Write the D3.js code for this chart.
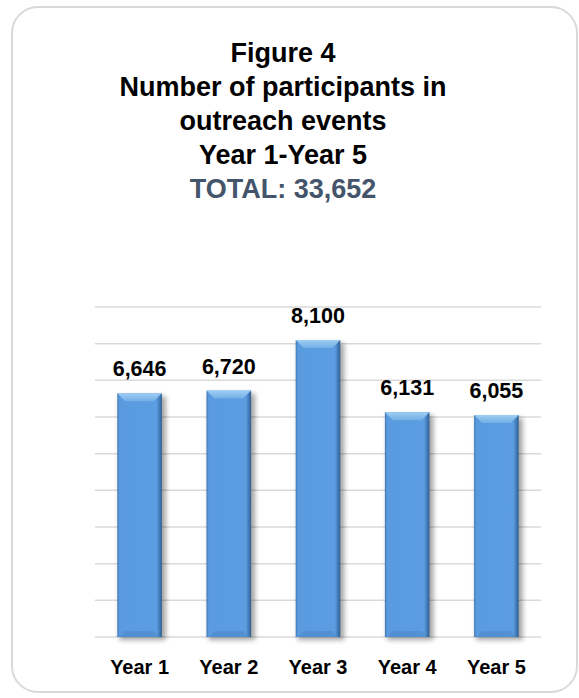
<html>
<head>
<meta charset="utf-8">
<title>Figure 4</title>
<style>
  body { margin: 0; background: #fff; }
  text { font-family: "Liberation Sans", Arial, sans-serif; font-weight: bold; }
</style>
<script src="https://d3js.org/d3.v7.min.js"></script>
</head>
<body>
<svg width="579" height="698"></svg>
<script>
var years = ["Year 1", "Year 2", "Year 3", "Year 4", "Year 5"];
var participants = [6646, 6720, 8100, 6131, 6055];
var titleLines = ["Figure 4", "Number of participants in", "outreach events", "Year 1-Year 5"];
var totalLine = "TOTAL: 33,652";
var gridTicks = d3.range(0, 9001, 1000);

var svg = d3.select("svg"),
    margin = {top: 307, right: 38, bottom: 61, left: 95},
    width = +svg.attr("width") - margin.left - margin.right,
    height = +svg.attr("height") - margin.top - margin.bottom;

var defs = svg.append("defs");
var side = defs.append("linearGradient").attr("id", "side").attr("x1", 0).attr("x2", 1).attr("y1", 0).attr("y2", 0);
side.append("stop").attr("offset", "0%").attr("stop-color", "#3f77b4");
side.append("stop").attr("offset", "5%").attr("stop-color", "#5a9be0");
side.append("stop").attr("offset", "88%").attr("stop-color", "#5b9de0");
side.append("stop").attr("offset", "100%").attr("stop-color", "#2f5f93");
var topG = defs.append("linearGradient").attr("id", "bevel").attr("x1", 0).attr("x2", 0).attr("y1", 0).attr("y2", 1);
topG.append("stop").attr("offset", "0%").attr("stop-color", "#9fcdf3");
topG.append("stop").attr("offset", "100%").attr("stop-color", "#72afe6");
var blur = defs.append("filter").attr("id", "shadow").attr("x", "-30%").attr("y", "-10%").attr("width", "160%").attr("height", "130%");
blur.append("feGaussianBlur").attr("stdDeviation", 2.5);

// card
svg.append("rect")
  .attr("x", 12).attr("y", 7).attr("width", 565).attr("height", 685)
  .attr("rx", 26).attr("ry", 26)
  .attr("fill", "#fff").attr("stroke", "#d9d9d9").attr("stroke-width", 2);

// title
var title = svg.append("g").attr("transform", "translate(283,0)");
title.selectAll(".tl").data(titleLines).enter().append("text")
  .attr("class", "tl")
  .attr("y", (d, i) => 62 + i * 34)
  .attr("text-anchor", "middle")
  .style("font-size", "27px")
  .attr("fill", "#000")
  .text(d => d);
title.append("text")
  .attr("y", 62 + 4 * 34)
  .attr("text-anchor", "middle")
  .style("font-size", "27px")
  .attr("fill", "#44546a")
  .text(totalLine);

var g = svg.append("g").attr("transform", `translate(${margin.left},${margin.top})`);

var xScale = d3.scaleBand().domain(years).range([0, width]).paddingInner(0.5).paddingOuter(0.25);
var yScale = d3.scaleLinear().domain([0, 9000]).range([height, 0]);

g.selectAll(".grid").data(gridTicks).enter().append("line")
  .attr("class", "grid")
  .attr("x1", 0).attr("x2", width)
  .attr("y1", d => yScale(d)).attr("y2", d => yScale(d))
  .attr("stroke", "#d9d9d9").attr("stroke-width", 1.5);

var data = years.map((y, i) => ({year: y, value: participants[i]}));
var bw = xScale.bandwidth(), bev = 8;

var bar = g.selectAll(".bar").data(data).enter().append("g").attr("class", "bar");
bar.append("rect")
  .attr("x", d => xScale(d.year) + 2).attr("y", d => yScale(d.value) + 3)
  .attr("width", bw + 2).attr("height", d => height - yScale(d.value))
  .attr("fill", "#000").attr("opacity", 0.35).attr("filter", "url(#shadow)");
bar.append("rect")
  .attr("x", d => xScale(d.year)).attr("y", d => yScale(d.value))
  .attr("width", bw).attr("height", d => height - yScale(d.value))
  .attr("fill", "url(#side)");
bar.append("path")
  .attr("d", d => {
    var x0 = xScale(d.year), y0 = yScale(d.value);
    return `M${x0},${y0}H${x0 + bw}L${x0 + bw - bev},${y0 + bev}H${x0 + bev}Z`;
  })
  .attr("fill", "url(#bevel)");
bar.append("path")
  .attr("d", d => {
    var x0 = xScale(d.year), y0 = height;
    return `M${x0 + 2},${y0}H${x0 + bw - 3}L${x0 + bw - bev},${y0 - 6}H${x0 + bev}Z`;
  })
  .attr("fill", "#4f8ccc").attr("opacity", 0.7);

g.selectAll(".val").data(data).enter().append("text")
  .attr("class", "val")
  .attr("x", d => xScale(d.year) + bw / 2)
  .attr("y", d => yScale(d.value) - 17)
  .attr("text-anchor", "middle")
  .style("font-size", "21.5px")
  .attr("fill", "#000")
  .text(d => d3.format(",")(d.value));

var xAxis = g.append("g")
  .attr("transform", `translate(0,${height})`)
  .call(d3.axisBottom(xScale).tickSize(0).tickPadding(23));
xAxis.select(".domain").remove();
xAxis.selectAll("text")
  .style("font-size", "20px")
  .style("font-family", "'Liberation Sans', Arial, sans-serif")
  .style("font-weight", "bold")
  .attr("fill", "#000");
</script>
</body>
</html>
